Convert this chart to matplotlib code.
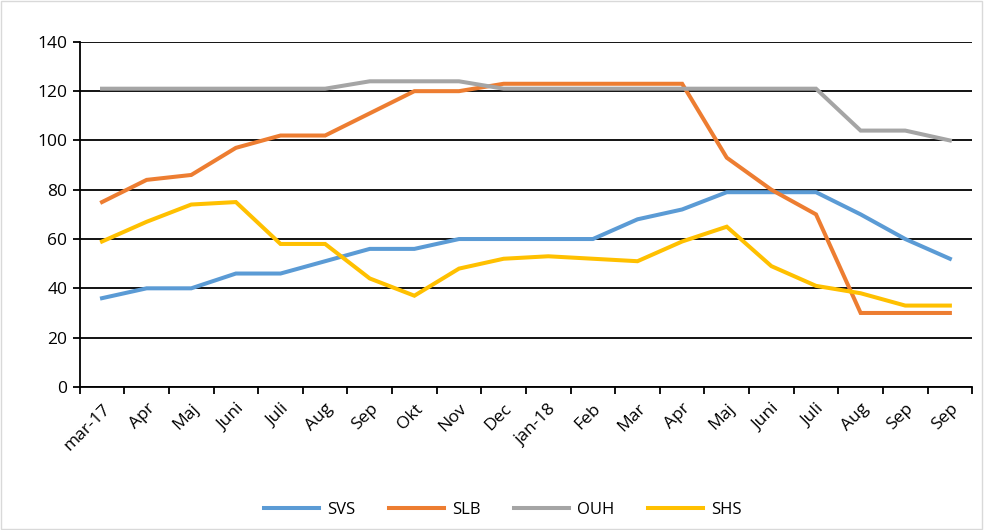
import numpy as np
import matplotlib
matplotlib.use("Agg")
from matplotlib import pyplot as plt

months = ["mar-17", "Apr", "Maj", "Juni", "Juli", "Aug", "Sep", "Okt", "Nov", "Dec",
          "jan-18", "Feb", "Mar", "Apr", "Maj", "Juni", "Juli", "Aug", "Sep", "Sep"]

svs = [36, 40, 40, 46, 46, 51, 56, 56, 60, 60, 60, 60, 68, 72, 79, 79, 79, 70, 60, 52]
slb = [75, 84, 86, 97, 102, 102, 111, 120, 120, 123, 123, 123, 123, 123, 93, 80, 70, 30, 30, 30]
ouh = [121, 121, 121, 121, 121, 121, 124, 124, 124, 121, 121, 121, 121, 121, 121, 121, 121, 104, 104, 100]
shs = [59, 67, 74, 75, 58, 58, 44, 37, 48, 52, 53, 52, 51, 59, 65, 49, 41, 38, 33, 33]

series = [("SVS", svs, "#5B9BD5"), ("SLB", slb, "#ED7D31"),
          ("OUH", ouh, "#A5A5A5"), ("SHS", shs, "#FFC000")]

plt.rcParams["font.family"] = ["Open Sans", "DejaVu Sans"]

fig = plt.figure(figsize=(9.84, 5.30), dpi=100)
ax = fig.add_axes([0.081, 0.270, 0.907, 0.651])

x = np.arange(len(months))
for name, vals, col in series:
    ax.plot(x, vals, color=col, lw=2.9, label=name, solid_joinstyle="miter", zorder=3)

ax.set_ylim(0, 140)
ax.set_yticks(range(0, 141, 20))
ax.set_xlim(-0.5, len(months) - 0.5)
ax.yaxis.grid(True, color="black", lw=1.3)
ax.set_axisbelow(True)

# category ticks sit between the categories
ax.set_xticks(x)
ax.set_xticklabels(months, rotation=45, ha="right", rotation_mode="anchor", fontsize=12.5)
ax.tick_params(axis="x", which="major", length=0, pad=10)
ax.set_xticks(np.arange(-0.5, len(months)), minor=True)
ax.tick_params(axis="x", which="minor", length=5, width=1.3, color="black", direction="out")
ax.tick_params(axis="y", length=5, width=1.3, labelsize=12.5, pad=4)

for s in ["top", "right"]:
    ax.spines[s].set_visible(False)
for s in ["left", "bottom"]:
    ax.spines[s].set_color("black")
    ax.spines[s].set_linewidth(1.3)

fig.legend(loc="lower center", ncol=4, frameon=False, bbox_to_anchor=(0.511, -0.005),
           fontsize=12, handlelength=3.3, columnspacing=2.0, handletextpad=0.5)

# light frame around the chart area
fig.patches.append(plt.Rectangle((0.001, 0.001), 0.997, 0.997, transform=fig.transFigure,
                                 fill=False, ec="#D9D9D9", lw=1))

fig.savefig("out.png", dpi=100)
